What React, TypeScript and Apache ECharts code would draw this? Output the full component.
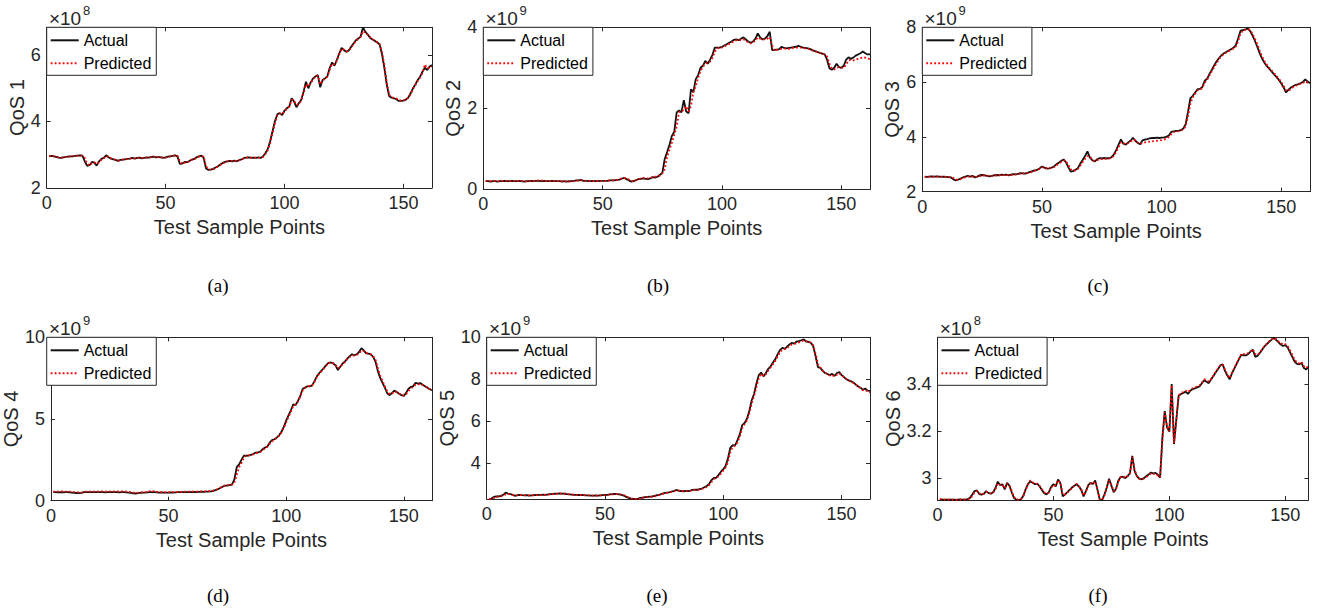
import React, { useEffect, useRef } from "react";
import * as echarts from "echarts";

// ---------- data (values shown in units of the axis multiplier) ----------
const xTicks = [0, 50, 100, 150];

const qos1Ticks = [2, 4, 6];
const qos2Ticks = [0, 2, 4];
const qos3Ticks = [2, 4, 6, 8];
const qos4Ticks = [0, 5, 10];
const qos5Ticks = [4, 6, 8, 10];
const qos6Ticks = [3, 3.2, 3.4];

const panelNames = ["QoS 1", "QoS 2", "QoS 3", "QoS 4", "QoS 5", "QoS 6"];
const captions = ["(a)", "(b)", "(c)", "(d)", "(e)", "(f)"];
const exponents = ["8", "9", "9", "9", "9", "8"];
const legendNames = ["Actual", "Predicted"];
const xAxisTitle = "Test Sample Points";

const qos1Actual = [
  2.95, 2.96, 2.95, 2.93, 2.91, 2.90, 2.92, 2.93, 2.94, 2.95,
  2.95, 2.96, 2.97, 2.98, 2.97, 2.80, 2.66, 2.68, 2.78, 2.76,
  2.67, 2.80, 2.87, 2.90, 2.98, 2.92, 2.88, 2.86, 2.84, 2.81,
  2.84, 2.85, 2.86, 2.87, 2.88, 2.90, 2.88, 2.90, 2.91, 2.89,
  2.90, 2.92, 2.91, 2.93, 2.94, 2.92, 2.93, 2.92, 2.90, 2.92,
  2.94, 2.95, 2.96, 2.98, 2.94, 2.72, 2.73, 2.78, 2.77, 2.81,
  2.85, 2.87, 2.92, 2.95, 2.97, 2.90, 2.58, 2.54, 2.55, 2.57,
  2.61, 2.65, 2.70, 2.75, 2.78, 2.80, 2.81, 2.80, 2.82, 2.80,
  2.84, 2.86, 2.90, 2.91, 2.92, 2.90, 2.91, 2.90, 2.92, 2.90,
  2.95, 3.05, 3.18, 3.42, 3.72, 4.02, 4.22, 4.25, 4.19, 4.33,
  4.40, 4.45, 4.70, 4.60, 4.43, 4.55, 4.65, 4.90, 5.20, 5.00,
  5.18, 5.30, 5.36, 5.40, 5.03, 5.25, 5.30, 5.36, 5.62, 5.78,
  5.68, 5.86, 6.05, 6.22, 6.15, 6.10, 6.14, 6.25, 6.35, 6.45,
  6.50, 6.56, 6.84, 6.70, 6.62, 6.52, 6.47, 6.43, 6.38, 6.32,
  6.02, 5.60, 5.10, 4.76, 4.72, 4.70, 4.67, 4.62, 4.62, 4.63,
  4.66, 4.72, 4.85, 5.00, 5.12, 5.25, 5.35, 5.50, 5.62, 5.55,
  5.66, 5.70,
];
const qos1Predicted = [
  2.96, 2.95, 2.95, 2.94, 2.92, 2.91, 2.91, 2.93, 2.94, 2.95,
  2.96, 2.96, 2.97, 2.97, 2.97, 2.90, 2.72, 2.67, 2.74, 2.77,
  2.72, 2.76, 2.85, 2.89, 2.95, 2.94, 2.89, 2.87, 2.84, 2.82,
  2.83, 2.85, 2.86, 2.87, 2.88, 2.89, 2.89, 2.89, 2.91, 2.90,
  2.90, 2.91, 2.92, 2.92, 2.94, 2.93, 2.92, 2.93, 2.91, 2.91,
  2.93, 2.95, 2.96, 2.97, 2.96, 2.80, 2.71, 2.76, 2.78, 2.79,
  2.84, 2.86, 2.90, 2.94, 2.96, 2.94, 2.65, 2.56, 2.55, 2.56,
  2.60, 2.64, 2.69, 2.74, 2.77, 2.80, 2.81, 2.81, 2.81, 2.81,
  2.83, 2.86, 2.89, 2.91, 2.92, 2.91, 2.91, 2.91, 2.91, 2.91,
  2.93, 3.02, 3.14, 3.36, 3.66, 3.96, 4.18, 4.24, 4.22, 4.30,
  4.39, 4.45, 4.65, 4.63, 4.50, 4.52, 4.63, 4.85, 5.12, 5.06,
  5.15, 5.27, 5.35, 5.39, 5.12, 5.22, 5.30, 5.35, 5.56, 5.74,
  5.72, 5.83, 6.02, 6.19, 6.17, 6.11, 6.13, 6.23, 6.33, 6.43,
  6.49, 6.55, 6.72, 6.68, 6.62, 6.54, 6.48, 6.44, 6.39, 6.33,
  6.08, 5.68, 5.18, 4.80, 4.73, 4.71, 4.69, 4.65, 4.63, 4.64,
  4.66, 4.71, 4.82, 4.97, 5.10, 5.22, 5.33, 5.46, 5.72, 5.60,
  5.63, 5.66,
];

const qos2Actual = [
  0.20, 0.20, 0.19, 0.20, 0.20, 0.19, 0.20, 0.20, 0.21, 0.20,
  0.20, 0.21, 0.20, 0.20, 0.21, 0.20, 0.19, 0.20, 0.20, 0.21,
  0.20, 0.21, 0.21, 0.20, 0.20, 0.21, 0.20, 0.20, 0.21, 0.20,
  0.20, 0.20, 0.19, 0.20, 0.19, 0.20, 0.20, 0.21, 0.22, 0.22,
  0.23, 0.21, 0.21, 0.20, 0.20, 0.21, 0.20, 0.20, 0.21, 0.21,
  0.21, 0.21, 0.22, 0.22, 0.22, 0.23, 0.24, 0.26, 0.28, 0.25,
  0.22, 0.19, 0.20, 0.23, 0.25, 0.26, 0.27, 0.26, 0.25, 0.27,
  0.30, 0.29, 0.31, 0.36, 0.40, 0.75, 0.92, 1.10, 1.32, 1.42,
  1.90, 1.95, 1.90, 2.20, 1.92, 1.88, 2.47, 2.40, 2.72, 2.82,
  3.00, 3.05, 3.17, 3.10, 3.20, 3.32, 3.50, 3.50, 3.50, 3.52,
  3.55, 3.58, 3.62, 3.65, 3.69, 3.70, 3.68, 3.72, 3.75, 3.70,
  3.65, 3.62, 3.65, 3.72, 3.85, 3.75, 3.70, 3.72, 3.78, 3.89,
  3.44, 3.44, 3.45, 3.46, 3.52, 3.49, 3.48, 3.49, 3.50, 3.51,
  3.52, 3.54, 3.52, 3.50, 3.49, 3.48, 3.46, 3.43, 3.41, 3.39,
  3.37, 3.35, 3.33, 3.20, 2.99, 2.95, 3.00, 3.10, 3.02, 3.00,
  3.05, 3.20, 3.26, 3.22, 3.25, 3.30, 3.33, 3.36, 3.40, 3.36,
  3.33, 3.33,
];
const qos2Predicted = [
  0.21, 0.21, 0.20, 0.20, 0.21, 0.20, 0.20, 0.21, 0.21, 0.21,
  0.20, 0.20, 0.21, 0.21, 0.20, 0.21, 0.20, 0.19, 0.20, 0.21,
  0.21, 0.20, 0.22, 0.22, 0.21, 0.20, 0.21, 0.20, 0.20, 0.21,
  0.20, 0.21, 0.20, 0.19, 0.20, 0.19, 0.20, 0.20, 0.21, 0.22,
  0.22, 0.22, 0.21, 0.21, 0.20, 0.20, 0.21, 0.20, 0.21, 0.21,
  0.21, 0.21, 0.22, 0.22, 0.23, 0.23, 0.25, 0.27, 0.28, 0.27,
  0.24, 0.21, 0.20, 0.22, 0.25, 0.27, 0.28, 0.27, 0.27, 0.28,
  0.30, 0.31, 0.31, 0.34, 0.40, 0.50, 0.80, 0.98, 1.15, 1.35,
  1.55, 1.90, 1.95, 1.95, 2.05, 1.92, 2.05, 2.40, 2.55, 2.75,
  2.92, 3.02, 3.10, 3.14, 3.15, 3.25, 3.40, 3.48, 3.50, 3.50,
  3.53, 3.56, 3.59, 3.62, 3.65, 3.68, 3.69, 3.68, 3.70, 3.68,
  3.62, 3.60, 3.62, 3.68, 3.75, 3.72, 3.70, 3.70, 3.72, 3.76,
  3.55, 3.42, 3.44, 3.45, 3.47, 3.48, 3.47, 3.47, 3.48, 3.49,
  3.50, 3.50, 3.50, 3.49, 3.48, 3.47, 3.45, 3.43, 3.41, 3.39,
  3.37, 3.35, 3.33, 3.28, 3.10, 2.98, 2.96, 3.00, 3.02, 3.00,
  3.00, 3.08, 3.18, 3.20, 3.18, 3.20, 3.22, 3.24, 3.26, 3.25,
  3.23, 3.21,
];

const qos3Actual = [
  2.55, 2.54, 2.55, 2.56, 2.55, 2.56, 2.55, 2.54, 2.55, 2.54,
  2.53, 2.52, 2.45, 2.41, 2.44, 2.48, 2.52, 2.55, 2.58, 2.55,
  2.58, 2.52, 2.55, 2.60, 2.61, 2.60, 2.58, 2.56, 2.58, 2.60,
  2.61, 2.60, 2.62, 2.61, 2.62, 2.60, 2.62, 2.64, 2.63, 2.65,
  2.68, 2.67, 2.66, 2.69, 2.72, 2.75, 2.78, 2.80, 2.85, 2.92,
  2.88, 2.84, 2.85, 2.88, 2.92, 3.00, 3.06, 3.12, 3.18, 3.08,
  2.90, 2.73, 2.75, 2.80, 2.86, 3.02, 3.16, 3.30, 3.47, 3.25,
  3.15, 3.10, 3.18, 3.22, 3.22, 3.23, 3.22, 3.22, 3.25, 3.35,
  3.52, 3.72, 3.91, 3.75, 3.72, 3.80, 3.86, 3.97, 3.86, 3.78,
  3.73, 3.87, 3.90, 3.92, 3.95, 3.96, 3.96, 3.97, 3.96, 3.97,
  3.98, 4.00, 4.05, 4.18, 4.20, 4.22, 4.22, 4.25, 4.30, 4.45,
  4.90, 5.41, 5.50, 5.62, 5.74, 5.75, 5.82, 6.05, 6.12, 6.30,
  6.45, 6.62, 6.76, 6.88, 6.98, 7.05, 7.10, 7.15, 7.20, 7.25,
  7.35, 7.60, 7.88, 7.90, 7.92, 7.96, 7.86, 7.70, 7.50, 7.28,
  7.05, 6.85, 6.70, 6.58, 6.48, 6.38, 6.28, 6.18, 6.08, 5.95,
  5.80, 5.62, 5.72, 5.80, 5.85, 5.90, 5.92, 5.96, 6.00, 6.10,
  6.02, 5.96,
];
const qos3Predicted = [
  2.54, 2.53, 2.55, 2.55, 2.54, 2.55, 2.55, 2.55, 2.54, 2.54,
  2.53, 2.52, 2.50, 2.44, 2.43, 2.46, 2.50, 2.53, 2.55, 2.56,
  2.55, 2.55, 2.54, 2.57, 2.60, 2.60, 2.59, 2.57, 2.57, 2.59,
  2.60, 2.60, 2.61, 2.61, 2.61, 2.61, 2.61, 2.62, 2.63, 2.64,
  2.66, 2.67, 2.67, 2.68, 2.70, 2.73, 2.76, 2.79, 2.83, 2.89,
  2.89, 2.86, 2.85, 2.87, 2.90, 2.96, 3.02, 3.08, 3.14, 3.12,
  2.98, 2.82, 2.76, 2.78, 2.83, 2.95, 3.08, 3.20, 3.30, 3.28,
  3.18, 3.12, 3.15, 3.18, 3.19, 3.20, 3.20, 3.21, 3.23, 3.30,
  3.45, 3.62, 3.80, 3.78, 3.73, 3.77, 3.82, 3.90, 3.87, 3.80,
  3.74, 3.78, 3.80, 3.82, 3.83, 3.84, 3.85, 3.86, 3.87, 3.88,
  3.90, 3.94, 4.00, 4.10, 4.17, 4.20, 4.21, 4.23, 4.27, 4.38,
  4.75, 5.20, 5.45, 5.58, 5.70, 5.73, 5.78, 5.98, 6.08, 6.24,
  6.40, 6.55, 6.70, 6.84, 6.95, 7.02, 7.08, 7.13, 7.18, 7.23,
  7.30, 7.50, 7.78, 7.88, 7.91, 7.94, 7.90, 7.76, 7.58, 7.38,
  7.15, 6.93, 6.76, 6.63, 6.52, 6.42, 6.32, 6.22, 6.12, 6.00,
  5.86, 5.70, 5.68, 5.75, 5.82, 5.87, 5.90, 5.93, 5.96, 6.02,
  5.98, 5.94,
];

const qos4Actual = [
  0.52, 0.52, 0.51, 0.52, 0.51, 0.52, 0.52, 0.51, 0.50, 0.48,
  0.47, 0.46, 0.48, 0.52, 0.53, 0.52, 0.52, 0.53, 0.52, 0.52,
  0.53, 0.52, 0.51, 0.52, 0.52, 0.52, 0.53, 0.52, 0.51, 0.52,
  0.52, 0.51, 0.50, 0.48, 0.45, 0.44, 0.46, 0.48, 0.49, 0.50,
  0.51, 0.52, 0.53, 0.52, 0.51, 0.50, 0.51, 0.50, 0.49, 0.50,
  0.51, 0.50, 0.51, 0.52, 0.52, 0.53, 0.52, 0.53, 0.54, 0.53,
  0.54, 0.53, 0.54, 0.55, 0.54, 0.55, 0.56, 0.57, 0.60, 0.65,
  0.70, 0.78, 0.85, 0.92, 0.93, 0.95, 1.00, 1.30, 2.05, 2.22,
  2.50, 2.76, 2.75, 2.76, 2.80, 2.86, 2.94, 2.95, 3.00, 3.15,
  3.25, 3.32, 3.55, 3.71, 3.76, 3.86, 4.00, 4.22, 4.52, 4.90,
  5.22, 5.52, 5.90, 5.85, 6.10, 6.42, 6.84, 6.92, 7.00, 7.00,
  7.04, 7.30, 7.60, 7.80, 7.96, 8.12, 8.30, 8.44, 8.46, 8.40,
  8.28, 8.00, 8.20, 8.40, 8.52, 8.70, 8.85, 8.96, 8.90, 8.96,
  9.10, 9.33, 9.20, 9.02, 9.00, 8.95, 8.80, 8.50, 7.92, 7.50,
  7.20, 6.90, 6.56, 6.46, 6.60, 6.74, 6.65, 6.55, 6.46, 6.41,
  6.60, 6.85, 6.96, 7.00, 7.22, 7.16, 7.20, 7.10, 7.00, 6.92,
  6.82, 6.76,
];
const qos4Predicted = [
  0.55, 0.56, 0.55, 0.56, 0.57, 0.56, 0.56, 0.55, 0.54, 0.53,
  0.51, 0.50, 0.50, 0.51, 0.55, 0.56, 0.55, 0.56, 0.55, 0.56,
  0.56, 0.57, 0.56, 0.55, 0.56, 0.57, 0.56, 0.57, 0.56, 0.57,
  0.56, 0.55, 0.55, 0.53, 0.50, 0.47, 0.48, 0.50, 0.52, 0.53,
  0.55, 0.58, 0.62, 0.56, 0.54, 0.53, 0.53, 0.52, 0.51, 0.52,
  0.53, 0.53, 0.53, 0.54, 0.54, 0.55, 0.55, 0.55, 0.56, 0.56,
  0.56, 0.56, 0.57, 0.57, 0.57, 0.58, 0.58, 0.60, 0.62, 0.66,
  0.72, 0.80, 0.88, 0.92, 0.95, 0.96, 0.98, 1.10, 1.60, 2.05,
  2.30, 2.62, 2.75, 2.78, 2.80, 2.84, 2.90, 2.94, 2.98, 3.10,
  3.20, 3.30, 3.48, 3.64, 3.74, 3.84, 3.98, 4.18, 4.45, 4.80,
  5.12, 5.44, 5.78, 5.88, 6.06, 6.36, 6.75, 6.90, 7.00, 7.02,
  7.06, 7.25, 7.55, 7.76, 7.92, 8.08, 8.26, 8.42, 8.46, 8.42,
  8.32, 8.10, 8.18, 8.36, 8.50, 8.66, 8.80, 8.90, 8.88, 8.92,
  9.02, 9.18, 9.16, 9.04, 9.00, 8.96, 8.85, 8.62, 8.10, 7.66,
  7.32, 7.00, 6.68, 6.52, 6.56, 6.66, 6.64, 6.56, 6.48, 6.43,
  6.52, 6.72, 6.88, 6.96, 7.10, 7.12, 7.14, 7.08, 7.00, 6.92,
  6.84, 6.78,
];

const qos5Actual = [
  2.30, 2.32, 2.40, 2.42, 2.42, 2.45, 2.50, 2.60, 2.56, 2.53,
  2.50, 2.45, 2.48, 2.50, 2.48, 2.47, 2.48, 2.46, 2.47, 2.48,
  2.49, 2.50, 2.50, 2.51, 2.50, 2.52, 2.53, 2.54, 2.55, 2.56,
  2.57, 2.56, 2.55, 2.53, 2.52, 2.51, 2.50, 2.50, 2.49, 2.49,
  2.48, 2.47, 2.47, 2.46, 2.46, 2.47, 2.46, 2.47, 2.48, 2.49,
  2.50, 2.52, 2.53, 2.54, 2.53, 2.52, 2.50, 2.46, 2.40, 2.35,
  2.32, 2.31, 2.30, 2.32, 2.35, 2.37, 2.39, 2.40, 2.41, 2.42,
  2.45, 2.48, 2.50, 2.55, 2.58, 2.60, 2.62, 2.65, 2.68, 2.73,
  2.70, 2.68, 2.67, 2.68, 2.68, 2.70, 2.73, 2.75, 2.74, 2.77,
  2.80, 2.86, 2.92, 3.02, 3.20, 3.30, 3.31, 3.45, 3.60, 3.72,
  3.88, 4.25, 4.75, 4.86, 4.85, 5.10, 5.40, 5.82, 5.92, 6.12,
  6.50, 7.00, 7.30, 7.80, 8.20, 8.32, 8.14, 8.30, 8.50, 8.62,
  8.80, 8.96, 9.20, 9.40, 9.50, 9.45, 9.56, 9.66, 9.74, 9.70,
  9.80, 9.82, 9.86, 9.90, 9.80, 9.78, 9.74, 9.58, 9.10, 8.58,
  8.54, 8.40, 8.30, 8.25, 8.20, 8.26, 8.16, 8.30, 8.34, 8.20,
  8.10, 8.00, 7.95, 7.90, 7.85, 7.75, 7.66, 7.60, 7.50, 7.56,
  7.46, 7.45,
];
const qos5Predicted = [
  2.30, 2.31, 2.35, 2.40, 2.42, 2.43, 2.46, 2.52, 2.55, 2.53,
  2.50, 2.47, 2.47, 2.49, 2.49, 2.48, 2.47, 2.47, 2.47, 2.48,
  2.48, 2.49, 2.50, 2.50, 2.50, 2.51, 2.52, 2.53, 2.54, 2.55,
  2.56, 2.56, 2.55, 2.54, 2.52, 2.51, 2.50, 2.50, 2.49, 2.49,
  2.48, 2.47, 2.47, 2.46, 2.46, 2.46, 2.46, 2.47, 2.48, 2.48,
  2.49, 2.51, 2.52, 2.53, 2.53, 2.52, 2.51, 2.48, 2.43, 2.37,
  2.33, 2.31, 2.30, 2.30, 2.33, 2.36, 2.38, 2.39, 2.40, 2.41,
  2.43, 2.46, 2.49, 2.52, 2.56, 2.59, 2.61, 2.64, 2.66, 2.70,
  2.71, 2.69, 2.67, 2.67, 2.68, 2.69, 2.71, 2.73, 2.74, 2.75,
  2.78, 2.82, 2.88, 2.96, 3.10, 3.25, 3.30, 3.38, 3.52, 3.66,
  3.80, 4.08, 4.55, 4.78, 4.85, 5.00, 5.28, 5.68, 5.88, 6.04,
  6.38, 6.85, 7.20, 7.65, 8.05, 8.26, 8.16, 8.24, 8.42, 8.56,
  8.72, 8.88, 9.10, 9.30, 9.42, 9.44, 9.50, 9.58, 9.66, 9.68,
  9.72, 9.76, 9.80, 9.86, 9.82, 9.78, 9.74, 9.62, 9.22, 8.72,
  8.56, 8.42, 8.32, 8.24, 8.18, 8.20, 8.14, 8.22, 8.28, 8.20,
  8.10, 8.01, 7.94, 7.88, 7.82, 7.74, 7.66, 7.58, 7.48, 7.50,
  7.42, 7.38,
];

const qos6Actual = [
  2.910, 2.909, 2.908, 2.909, 2.908, 2.909, 2.908, 2.907, 2.909, 2.910,
  2.908, 2.909, 2.911, 2.916, 2.930, 2.945, 2.948, 2.932, 2.930, 2.934,
  2.945, 2.936, 2.934, 2.940, 2.958, 2.985, 2.970, 2.974, 2.952, 2.980,
  2.968, 2.940, 2.915, 2.908, 2.907, 2.910, 2.925, 2.952, 2.975, 2.986,
  2.980, 2.974, 2.977, 2.965, 2.950, 2.936, 2.931, 2.940, 2.963, 2.975,
  2.965, 2.994, 2.978, 2.923, 2.930, 2.940, 2.950, 2.960, 2.968, 2.974,
  2.964, 2.950, 2.922, 2.945, 2.970, 2.980, 2.975, 2.990, 2.950, 2.907,
  2.908, 2.930, 2.960, 2.997, 2.968, 2.940, 2.955, 2.990, 3.005, 3.005,
  3.000, 3.010, 3.020, 3.095, 3.030, 3.008, 2.998, 2.995, 3.000, 3.008,
  3.015, 3.024, 3.020, 3.022, 3.015, 3.002, 3.175, 3.285, 3.215, 3.198,
  3.400, 3.145, 3.250, 3.350, 3.358, 3.362, 3.368, 3.358, 3.372, 3.378,
  3.382, 3.386, 3.390, 3.404, 3.416, 3.410, 3.404, 3.420, 3.434, 3.450,
  3.464, 3.480, 3.484, 3.456, 3.436, 3.420, 3.446, 3.466, 3.486, 3.506,
  3.524, 3.522, 3.522, 3.528, 3.538, 3.546, 3.516, 3.520, 3.532, 3.546,
  3.560, 3.570, 3.580, 3.588, 3.597, 3.588, 3.578, 3.568, 3.562, 3.566,
  3.556, 3.536, 3.516, 3.496, 3.486, 3.484, 3.490, 3.468, 3.462, 3.474,
];
const qos6Predicted = [
  2.912, 2.910, 2.909, 2.908, 2.909, 2.908, 2.909, 2.908, 2.908, 2.909,
  2.910, 2.909, 2.910, 2.913, 2.924, 2.940, 2.946, 2.936, 2.931, 2.933,
  2.942, 2.938, 2.935, 2.938, 2.952, 2.978, 2.972, 2.972, 2.956, 2.975,
  2.970, 2.945, 2.920, 2.910, 2.908, 2.910, 2.922, 2.948, 2.972, 2.990,
  2.982, 2.976, 2.976, 2.968, 2.953, 2.940, 2.933, 2.938, 2.958, 2.972,
  2.968, 2.990, 2.982, 2.930, 2.930, 2.938, 2.948, 2.958, 2.966, 2.976,
  2.966, 2.952, 2.926, 2.942, 2.966, 2.978, 2.976, 2.986, 2.956, 2.910,
  2.908, 2.926, 2.956, 2.992, 2.972, 2.944, 2.952, 2.985, 3.005, 3.008,
  3.002, 3.008, 3.018, 3.090, 3.036, 3.010, 2.998, 2.995, 2.998, 3.004,
  3.012, 3.020, 3.018, 3.016, 3.012, 3.004, 3.160, 3.280, 3.222, 3.200,
  3.395, 3.150, 3.245, 3.352, 3.362, 3.366, 3.372, 3.366, 3.375, 3.382,
  3.386, 3.390, 3.394, 3.406, 3.420, 3.418, 3.410, 3.422, 3.436, 3.452,
  3.466, 3.482, 3.482, 3.462, 3.440, 3.426, 3.448, 3.468, 3.488, 3.508,
  3.528, 3.528, 3.526, 3.532, 3.540, 3.548, 3.528, 3.524, 3.534, 3.548,
  3.562, 3.572, 3.582, 3.590, 3.596, 3.592, 3.582, 3.574, 3.568, 3.570,
  3.562, 3.544, 3.524, 3.504, 3.492, 3.488, 3.494, 3.476, 3.468, 3.478,
];

const actualSeries = [qos1Actual, qos2Actual, qos3Actual, qos4Actual, qos5Actual, qos6Actual];
const predictedSeries = [qos1Predicted, qos2Predicted, qos3Predicted, qos4Predicted, qos5Predicted, qos6Predicted];
const yTickSets = [qos1Ticks, qos2Ticks, qos3Ticks, qos4Ticks, qos5Ticks, qos6Ticks];
const yRanges = [
  [2, 6.84],
  [0, 4],
  [2, 8],
  [0, 10],
  [2.3, 10],
  [2.907, 3.599],
];
const xMaxes = [162, 162, 162, 162, 162, 160];

// ---------- layout (pixels) ----------
const layout = [
  { left: 46.7, top: 27.3, width: 385.3, height: 160.5, yGap: 19, capX: 218, capY: 285 },
  { left: 483.3, top: 27.3, width: 386.7, height: 162, yGap: 16, capX: 658, capY: 285 },
  { left: 922.3, top: 27.3, width: 387.7, height: 164.4, yGap: 15, capX: 1098, capY: 285 },
  { left: 46.7, top: 337.3, width: 385.3, height: 163.4, yGap: 21, capX: 218, capY: 595 },
  { left: 486.7, top: 337.3, width: 383.3, height: 161.7, yGap: 20, capX: 657, capY: 595 },
  { left: 937.5, top: 337.3, width: 371, height: 162.7, yGap: 30, capX: 1098, capY: 595 },
];

const FONT = "'Liberation Sans', Arial, Helvetica, sans-serif";
const SERIF = "'Liberation Serif', 'Times New Roman', serif";
const AX = "#262626";

function buildOption() {
  const grid: any[] = [];
  const xAxis: any[] = [];
  const yAxis: any[] = [];
  const series: any[] = [];
  const legend: any[] = [];
  const graphic: any[] = [];

  layout.forEach((L, i) => {
    grid.push({ left: L.left, top: L.top, width: L.width, height: L.height, containLabel: false });
    const axisLine = { show: true, onZero: false, lineStyle: { color: AX, width: 1 } };
    const tick = (vals: number[]) => ({
      show: true,
      inside: true,
      length: 4,
      customValues: vals,
      lineStyle: { color: AX, width: 1 },
    });
    const labelStyle = { fontSize: 18, color: AX, fontFamily: FONT };

    xAxis.push({
      type: "value",
      gridIndex: i,
      position: "bottom",
      min: 0,
      max: xMaxes[i],
      axisLine,
      axisTick: tick(xTicks),
      axisLabel: { ...labelStyle, margin: 6, customValues: xTicks },
      splitLine: { show: false },
      name: xAxisTitle,
      nameLocation: "middle",
      nameGap: 29,
      nameTextStyle: { fontSize: 20, color: AX, fontFamily: FONT, lineHeight: 20 },
    });
    xAxis.push({
      type: "value",
      gridIndex: i,
      position: "top",
      min: 0,
      max: xMaxes[i],
      axisLine,
      axisTick: tick(xTicks),
      axisLabel: { show: false },
      splitLine: { show: false },
    });
    yAxis.push({
      type: "value",
      gridIndex: i,
      position: "left",
      min: yRanges[i][0],
      max: yRanges[i][1],
      axisLine,
      axisTick: tick(yTickSets[i]),
      axisLabel: { ...labelStyle, margin: 6, customValues: yTickSets[i] },
      splitLine: { show: false },
      name: panelNames[i],
      nameLocation: "middle",
      nameGap: L.yGap,
      nameTextStyle: { fontSize: 20, color: AX, fontFamily: FONT, lineHeight: 20 },
    });
    yAxis.push({
      type: "value",
      gridIndex: i,
      position: "right",
      min: yRanges[i][0],
      max: yRanges[i][1],
      axisLine,
      axisTick: tick(yTickSets[i]),
      axisLabel: { show: false },
      splitLine: { show: false },
    });

    series.push({
      type: "line",
      name: legendNames[0],
      xAxisIndex: 2 * i,
      yAxisIndex: 2 * i,
      data: actualSeries[i].map((v, k) => [k + 1, v]),
      symbol: "none",
      showSymbol: false,
      clip: true,
      color: "#111",
      lineStyle: { color: "#111", width: 1.8, type: "solid" },
      z: 2,
    });
    series.push({
      type: "line",
      name: legendNames[1],
      xAxisIndex: 2 * i,
      yAxisIndex: 2 * i,
      data: predictedSeries[i].map((v, k) => [k + 1, v]),
      symbol: "none",
      showSymbol: false,
      clip: true,
      color: "#ff0000",
      lineStyle: { color: "#ff0000", width: 1.8, type: [1.8, 2.2], cap: "butt" },
      z: 3,
    });

    legend.push({
      left: L.left,
      top: L.top,
      orient: "vertical",
      data: legendNames,
      itemWidth: 28,
      itemHeight: 12,
      itemGap: 7,
      padding: [5, 5, 4, 3],
      backgroundColor: "#ffffff",
      borderColor: AX,
      borderWidth: 1,
      borderRadius: 0,
      selectedMode: false,
      itemStyle: { opacity: 0, borderWidth: 0 },
      textStyle: { fontSize: 16, color: "#000", fontFamily: FONT, lineHeight: 14 },
      z: 10,
    });

    graphic.push({
      type: "text",
      x: L.left + 2.2,
      y: L.top - 9.3,
      style: { text: "×10", fontSize: 19, fontFamily: FONT, fill: AX, align: "left", verticalAlign: "middle" },
    });
    graphic.push({
      type: "text",
      x: L.left + 36.3,
      y: L.top - 17.3,
      style: { text: exponents[i], fontSize: 13, fontFamily: FONT, fill: AX, align: "left", verticalAlign: "middle" },
    });
    graphic.push({
      type: "text",
      x: L.capX,
      y: L.capY,
      style: { text: captions[i], fontSize: 19, fontFamily: SERIF, fill: "#000", align: "center", verticalAlign: "middle" },
    });
  });

  return {
    animation: false,
    backgroundColor: "#ffffff",
    textStyle: { fontFamily: FONT },
    grid,
    xAxis,
    yAxis,
    series,
    legend,
    graphic,
  };
}

export default function App() {
  const ref = useRef<HTMLDivElement>(null);
  useEffect(() => {
    if (!ref.current) return;
    const chart = echarts.init(ref.current, undefined, { renderer: "svg" });
    chart.setOption(buildOption() as any);
    return () => chart.dispose();
  }, []);
  return (
    <div
      ref={ref}
      style={{ position: "absolute", left: 0, top: 0, width: 1318, height: 609, background: "#fff" }}
    />
  );
}
